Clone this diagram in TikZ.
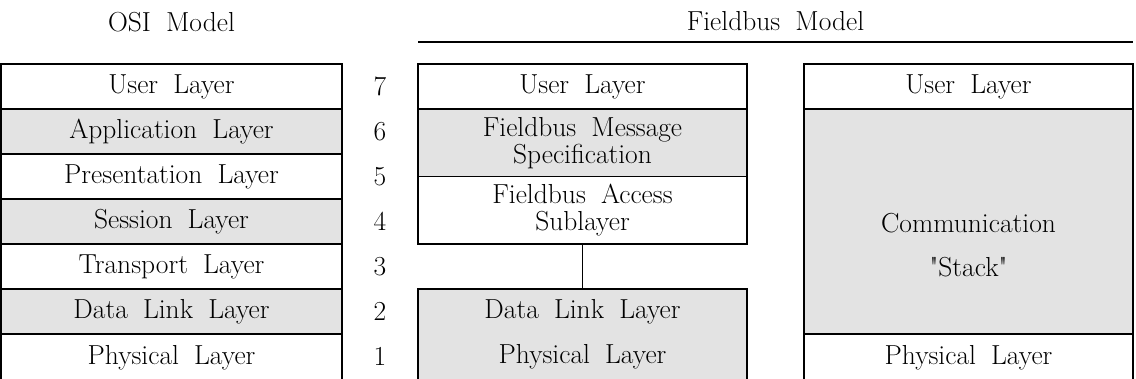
\documentclass[tikz,border=0pt]{standalone}
% text face used in every layer box: large size with generous word spacing
\newcommand\layerfont{\fontsize{27.5}{27}\selectfont\spaceskip=0.55em\relax}
\tikzset{
  layer/.style={draw, line width=1.3pt, inner sep=0pt, outer sep=0pt, align=center, font=\layerfont},
  shaded/.style={fill=black!11},
  label/.style={inner sep=0pt, font=\layerfont, align=center},
  link/.style={line width=1.3pt},
}
\begin{document}
\begin{tikzpicture}[x=1pt, y=-1pt]
\useasboundingbox (0,0) rectangle (1136,379);

% column titles
\node[label] (osititle) at (171.5,22) {OSI Model};
\node[label] (fbtitle) at (775.5,21) {Fieldbus Model};
\coordinate (fbrule-w) at (418,42);
\coordinate (fbrule-e) at (1133,42);
\draw[link] (fbrule-w) -- (fbrule-e);

% OSI stack
\begin{scope}[every node/.append style={minimum width=341pt, minimum height=45pt}]
\node[layer] (osi7) at (171.5,86.5) {User Layer};
\node[layer, shaded] (osi6) at (171.5,131.5) {Application Layer};
\node[layer] (osi5) at (171.5,176.5) {Presentation Layer};
\node[layer, shaded] (osi4) at (171.5,221.5) {Session Layer};
\node[layer] (osi3) at (171.5,266.5) {Transport Layer};
\node[layer, shaded] (osi2) at (171.5,311.5) {Data Link Layer};
\node[layer, minimum height=47pt] (osi1) at (171.5,357.5) {Physical Layer};
\end{scope}

% layer numbers
\foreach \n/\y in {7/86.5, 6/131.5, 5/176.5, 4/221.5, 3/266.5, 2/311.5, 1/356.5}
  \node[label] (num\n) at (380,\y) {\n};

% Fieldbus model, layered view
\begin{scope}[every node/.append style={minimum width=329pt}]
\node[layer, minimum height=45pt] (fbuser) at (582.5,86.5) {User Layer};
\node[layer, shaded, minimum height=67.5pt] (fms) at (582.5,142.75) {Fieldbus Message\\Specification};
\node[layer, minimum height=67.5pt] (fas) at (582.5,210.25) {Fieldbus Access\\Sublayer};
\node[layer, shaded, minimum height=92pt] (phy) at (582.5,335) {};
\end{scope}
\node[label] (phydl) at (582.5,311.5) {Data Link Layer};
\node[label] (phyph) at (582.5,356.5) {Physical Layer};
\draw[link] (fas.south) -- (phy.north);

% Fieldbus model, stack view
\begin{scope}[every node/.append style={minimum width=329pt}]
\node[layer, minimum height=45pt] (stuser) at (968.5,86.5) {User Layer};
\node[layer, shaded, minimum height=225pt] (stack) at (968.5,221.5) {};
\node[layer, minimum height=47pt] (stphy) at (968.5,357.5) {Physical Layer};
\end{scope}
\node[label, font={\layerfont\baselineskip=44pt}] (stacktext) at (968.5,245) {Communication\\\textquotedbl Stack\textquotedbl};
\end{tikzpicture}
\end{document}
